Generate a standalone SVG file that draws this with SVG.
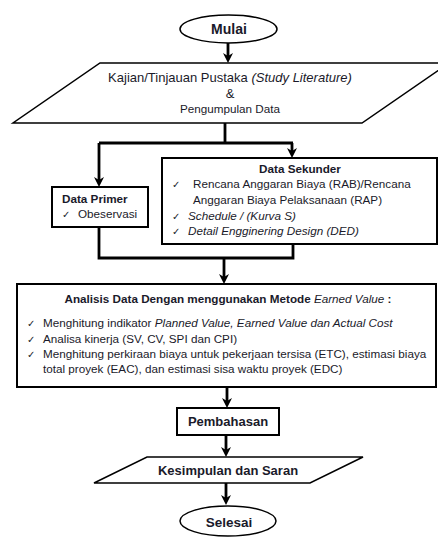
<svg xmlns="http://www.w3.org/2000/svg" width="438" height="538" viewBox="0 0 438 538">
<defs>
<marker id="ah" viewBox="0 0 10 10" refX="5" refY="5" markerWidth="10" markerHeight="10" markerUnits="userSpaceOnUse" orient="auto">
<path d="M0,0 L10,5 L0,10 L3,5 z" fill="#000"/>
</marker>
<style>
.sh{fill:#fff;stroke:#000;stroke-width:1.5}
.bx{fill:#fff;stroke:#000;stroke-width:2}
.t{font-family:"Liberation Sans",Arial,sans-serif;fill:#1a1a2a;font-size:11.7px}
.b{font-weight:bold}
.i{font-style:italic}
.c{text-anchor:middle}
.ck{font-family:"DejaVu Sans",sans-serif;font-size:10px;fill:#1a1a2a}
.cn{fill:none;stroke:#000;stroke-width:2.8}
.ar{marker-end:url(#ah)}
</style>
</defs>
<g id="connectors">
<path class="cn ar" d="M228,43 V58"/>
<path class="cn" d="M225,123 V143 M99,143 H293"/>
<path class="cn ar" d="M99,143 V182"/>
<path class="cn ar" d="M292,143 V153"/>
<path class="cn" d="M99,227 V258 H293 V244"/>
<path class="cn ar" d="M224,258 V279"/>
<path class="cn ar" d="M227,387 V403"/>
<path class="cn ar" d="M226,435 V452"/>
<path class="cn ar" d="M226,483 V500"/>
</g>
<g id="mulai">
<ellipse class="sh" cx="228.5" cy="29" rx="48.5" ry="14"/>
<text class="t b c" x="229" y="34" style="font-size:14px">Mulai</text>
</g>
<g id="kajian">
<polygon class="sh" points="100,63 449,63 362,123 13,123"/>
<text class="t c" x="230" y="82" style="font-size:13px">Kajian/Tinjauan Pustaka <tspan class="i">(Study Literature)</tspan></text>
<text class="t c" x="230" y="98" style="font-size:13px">&amp;</text>
<text class="t c" x="230" y="113">Pengumpulan Data</text>
</g>
<g id="data-primer">
<rect class="bx" x="52" y="187" width="96" height="40"/>
<text class="t b" x="62" y="203">Data Primer</text>
<text class="ck" x="62" y="218">✓</text>
<text class="t" x="78" y="218">Obeservasi</text>
</g>
<g id="data-sekunder">
<rect class="bx" x="162" y="158" width="275" height="86"/>
<text class="t b c" x="300" y="173">Data Sekunder</text>
<text class="ck" x="172" y="188">✓</text>
<text class="t" x="193" y="188">Rencana Anggaran Biaya (RAB)/Rencana</text>
<text class="t" x="193" y="204">Anggaran Biaya Pelaksanaan (RAP)</text>
<text class="ck" x="172" y="220">✓</text>
<text class="t i" x="188" y="220">Schedule / (Kurva S)</text>
<text class="ck" x="172" y="235">✓</text>
<text class="t i" x="188" y="235">Detail Engginering Design (DED)</text>
</g>
<g id="analisis">
<rect class="bx" x="17" y="284" width="419" height="103"/>
<text class="t b c" x="228" y="303">Analisis Data Dengan menggunakan Metode <tspan class="i" style="font-weight:normal">Earned Value</tspan> :</text>
<text class="ck" x="27" y="327">✓</text>
<text class="t" x="43" y="327">Menghitung indikator <tspan class="i">Planned Value, Earned Value dan Actual Cost</tspan></text>
<text class="ck" x="27" y="343">✓</text>
<text class="t" x="43" y="343">Analisa kinerja (SV, CV, SPI dan CPI)</text>
<text class="ck" x="27" y="358">✓</text>
<text class="t" x="43" y="358">Menghitung perkiraan biaya untuk pekerjaan tersisa (ETC), estimasi biaya</text>
<text class="t" x="43" y="373">total proyek (EAC), dan estimasi sisa waktu proyek (EDC)</text>
</g>
<g id="pembahasan">
<rect class="bx" x="177" y="408" width="102" height="27"/>
<text class="t b c" x="228" y="426" style="font-size:13px">Pembahasan</text>
</g>
<g id="kesimpulan">
<polygon class="sh" points="147,457 363,457 310,483 94,483"/>
<text class="t b c" x="228" y="475" style="font-size:13px">Kesimpulan dan Saran</text>
</g>
<g id="selesai">
<ellipse class="sh" cx="228" cy="521" rx="48" ry="15"/>
<text class="t b c" x="229" y="527" style="font-size:13.5px">Selesai</text>
</g>
</svg>
